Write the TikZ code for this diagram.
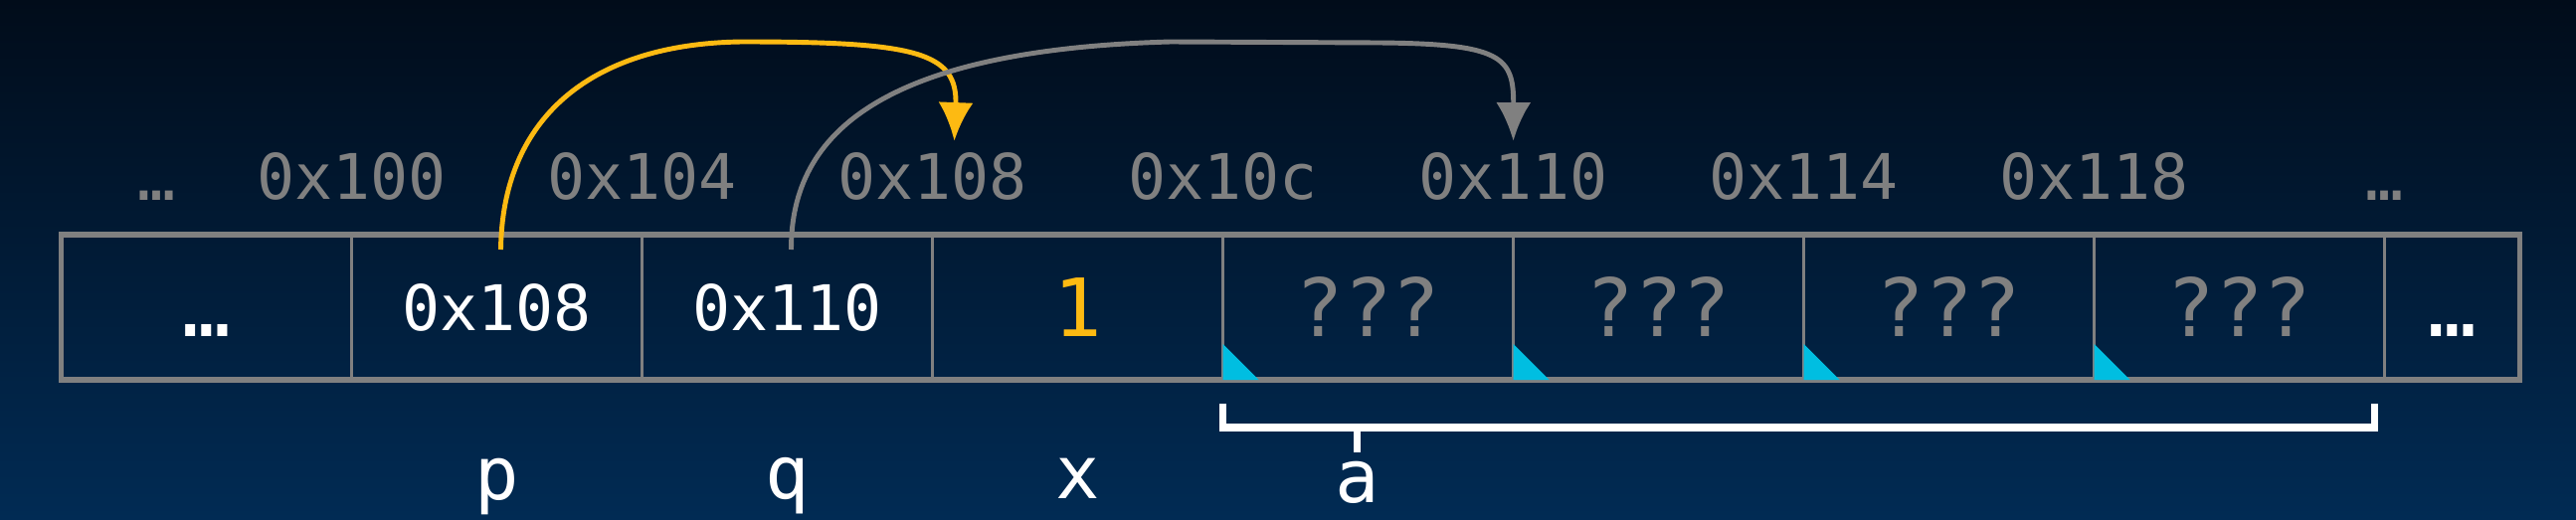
\documentclass[tikz,border=0pt]{standalone}
\usepackage{fontspec}
\newfontfamily\memfont{DejaVu Sans Mono}
\usetikzlibrary{arrows.meta}
\usetikzlibrary{positioning}

\definecolor{bgtop}{RGB}{1,12,26}
\definecolor{bgbottom}{RGB}{1,43,84}
\definecolor{memgray}{RGB}{128,128,128}
\definecolor{ptryellow}{RGB}{253,186,18}
\definecolor{tagcyan}{RGB}{0,190,225}

\tikzset{
  cell/.style={draw=memgray, line width=1pt, outer sep=0pt, inner sep=0pt,
    minimum width=2.92cm, minimum height=1.46cm, text=white,
    text height=13.1pt, text depth=0pt, font=\memfont\fontsize{18}{20}\selectfont},
  bigcell/.style={cell, text height=16.8pt, font=\memfont\fontsize{23}{26}\selectfont},
  addr/.style={text=memgray, inner sep=0pt, font=\memfont\fontsize{18}{20}\selectfont},
  varname/.style={text=white, inner sep=0pt, font=\memfont\fontsize{21}{24}\selectfont},
  ptr/.style={line width=1.4pt, -{Latex[length=11pt,width=10pt]}},
}

\begin{document}
\begin{tikzpicture}
\shade[top color=bgtop, bottom color=bgbottom] (0,0) rectangle (25.9,5.22);

% memory cells
\node[bigcell] (cdots) at (2.075,2.13) {…};
\node[cell, right=0pt of cdots] (cp) {0x108};
\node[cell, right=0pt of cp] (cq) {0x110};
\node[bigcell, right=0pt of cq, text=ptryellow] (cx) {1};
\node[bigcell, right=0pt of cx, text=memgray] (ca0) {???};
\node[bigcell, right=0pt of ca0, text=memgray] (ca1) {???};
\node[bigcell, right=0pt of ca1, text=memgray] (ca2) {???};
\node[bigcell, right=0pt of ca2, text=memgray] (ca3) {???};
\node[bigcell, right=0pt of ca3, minimum width=1.36cm] (cend) {…};
\draw[memgray, line width=1.5pt] (cdots.north west) rectangle (cend.south east);

% uninitialised marks
\fill[tagcyan] (ca0.south west) -- ++(0,0.36) -- ++(0.36,-0.36) -- cycle;
\fill[tagcyan] (ca1.south west) -- ++(0,0.36) -- ++(0.36,-0.36) -- cycle;
\fill[tagcyan] (ca2.south west) -- ++(0,0.36) -- ++(0.36,-0.36) -- cycle;
\fill[tagcyan] (ca3.south west) -- ++(0,0.36) -- ++(0.36,-0.36) -- cycle;

% addresses
\node[addr, above=0.34cm of cdots.north, xshift=-5mm] (adots) {…};
\node[addr, above=0.34cm of cp.north west] (a100) {0x100};
\node[addr, above=0.34cm of cq.north west] (a104) {0x104};
\node[addr, above=0.34cm of cx.north west] (a108) {0x108};
\node[addr, above=0.34cm of ca0.north west] (a10c) {0x10c};
\node[addr, above=0.34cm of ca1.north west] (a110) {0x110};
\node[addr, above=0.34cm of ca2.north west] (a114) {0x114};
\node[addr, above=0.34cm of ca3.north west] (a118) {0x118};
\node[addr, above=0.34cm of cend.north west] (aend) {…};

% pointers
\coordinate (pstart) at ([xshift=0.4mm, yshift=-1.5mm]cp.north);
\coordinate (pend) at ([xshift=2.2mm, yshift=1.1mm]a108.north);
\coordinate (qstart) at ([xshift=0.4mm, yshift=-1.5mm]cq.north);
\coordinate (qend) at ([yshift=1.1mm]a110.north);
\draw[ptr, ptryellow] (pstart) .. controls (5.05,4.0) and (5.9,4.78) .. (7.46,4.80)
  .. controls (9.2,4.80) and (9.63,4.7) .. (pend);
\draw[ptr, memgray] (qstart) .. controls (7.95,3.9) and (8.9,4.72) .. (11.77,4.80)
  -- (13.86,4.79) .. controls (15.1,4.78) and (15.22,4.65) .. (qend);

% array brace
\coordinate (tick) at ([xshift=-1.1mm, yshift=-7.3mm]ca0.south);
\draw[white, line width=2pt] ([yshift=-2.4mm]ca0.south west) -- ([yshift=-4.8mm]ca0.south west)
  -- ([xshift=-1mm, yshift=-4.8mm]ca3.south east) -- ([xshift=-1mm, yshift=-2.4mm]ca3.south east);
\draw[white, line width=2pt] ([yshift=-4.8mm]tick |- ca0.south) -- (tick);

% variable names
\node[varname, below=0.78cm of cp.south] (lp) {p};
\node[varname, below=0.78cm of cq.south] (lq) {q};
\node[varname, below=0.78cm of cx.south] (lx) {x};
\node[varname, below=0.08cm of tick] (la) {a};
\end{tikzpicture}
\end{document}
